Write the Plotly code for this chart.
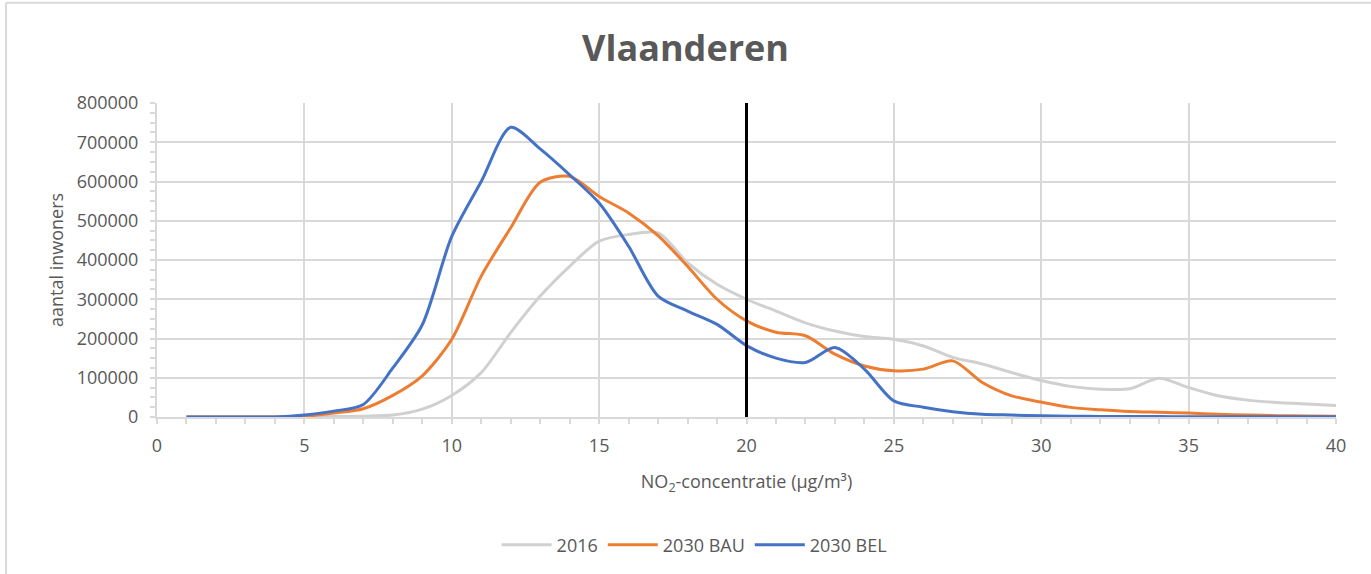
import plotly.graph_objects as go

# NO2 concentration classes (µg/m³)
concentratie = list(range(1, 41))

# number of inhabitants per concentration class
inwoners_2016 = [0, 0, 0, 0, 500, 1000, 2000, 5000, 20000, 55000,
                 113000, 215000, 308000, 384000, 448000, 465000, 469000, 393000, 338000, 300000,
                 270000, 240000, 219000, 205000, 198000, 181000, 152000, 135000, 113000, 93000,
                 78000, 71000, 72000, 99000, 75000, 54000, 43000, 37000, 33000, 29000]

inwoners_2030_bau = [0, 0, 0, 0, 2000, 10000, 21000, 55000, 105000, 198000,
                     359000, 482000, 598000, 613000, 562000, 520000, 462000, 384000, 300000, 245000,
                     216000, 207000, 160000, 130000, 118000, 122000, 143000, 88000, 54000, 38000,
                     24500, 18500, 14000, 12000, 10000, 7000, 5000, 3500, 2500, 2000]

inwoners_2030_bel = [0, 0, 0, 0, 5000, 15000, 32000, 125000, 235000, 460000,
                     600000, 738000, 683000, 617000, 545000, 435000, 308000, 270000, 236000, 182000,
                     150000, 139000, 177000, 122000, 41000, 25000, 13500, 7000, 5000, 3000,
                     2000, 1500, 1200, 1000, 800, 700, 600, 500, 500, 500]

grenswaarde = 20  # annual limit value

series = [
    ("2016", inwoners_2016, "#D0D0D0"),
    ("2030 BAU", inwoners_2030_bau, "#ED7D31"),
    ("2030 BEL", inwoners_2030_bel, "#4472C4"),
]

TXT = "#595959"
GRID = "#D9D9D9"
FONT = "Open Sans"

fig = go.Figure()
for naam, waarden, kleur in series:
    fig.add_trace(go.Scatter(
        x=concentratie, y=waarden, name=naam, mode="lines",
        line=dict(color=kleur, width=3, shape="spline", smoothing=0.8),
    ))

# vertical marker at the limit value
fig.add_shape(type="line", xref="x", yref="y",
              x0=grenswaarde, x1=grenswaarde, y0=0, y1=800000,
              line=dict(color="black", width=3))

# chart frame (top and left edges)
fig.add_shape(type="line", xref="paper", yref="paper",
              x0=-0.1281, x1=1.03, y0=1.319, y1=1.319,
              line=dict(color=GRID, width=2))
fig.add_shape(type="line", xref="paper", yref="paper",
              x0=-0.1281, x1=-0.1281, y0=1.319, y1=-0.5,
              line=dict(color=GRID, width=2))

fig.update_layout(
    width=1371, height=574,
    margin=dict(l=157, r=35, t=103, b=156),
    paper_bgcolor="white", plot_bgcolor="white",
    font=dict(family=FONT, color=TXT, size=18),
    title=dict(text="<b>Vlaanderen</b>", x=0.5, xanchor="center",
               y=1 - 48 / 574, yanchor="middle",
               font=dict(family=FONT, size=36, color=TXT)),
    showlegend=True,
    legend=dict(orientation="h", x=0.456, xanchor="center",
                y=-0.403, yanchor="middle",
                font=dict(family=FONT, size=18, color=TXT),
                itemwidth=50, tracegroupgap=0),
    xaxis=dict(range=[0, 40], dtick=5, tick0=0,
               showgrid=True, gridcolor=GRID, gridwidth=2,
               showline=True, linecolor=GRID, linewidth=2,
               ticks="outside", ticklen=5, tickcolor=GRID, tickwidth=2,
               minor=dict(dtick=1, ticks="outside", ticklen=5,
                          tickcolor=GRID, tickwidth=2, showgrid=False),
               zeroline=False, ticklabelstandoff=6,
               tickfont=dict(size=18, color=TXT),
               title=dict(text="NO<sub>2</sub>-concentratie (µg/m³)",
                          font=dict(size=18, color=TXT), standoff=20)),
    yaxis=dict(range=[0, 800000], dtick=100000, tick0=0, tickformat="d",
               showgrid=True, gridcolor=GRID, gridwidth=2,
               showline=True, linecolor=GRID, linewidth=2,
               ticks="outside", ticklen=5, tickcolor=GRID, tickwidth=2,
               minor=dict(dtick=25000, ticks="outside", ticklen=5,
                          tickcolor=GRID, tickwidth=2, showgrid=False),
               zeroline=False, ticklabelstandoff=8,
               tickfont=dict(size=18, color=TXT),
               title=dict(text="aantal inwoners",
                          font=dict(size=18, color=TXT), standoff=8)),
)

fig.write_html("out.html")
